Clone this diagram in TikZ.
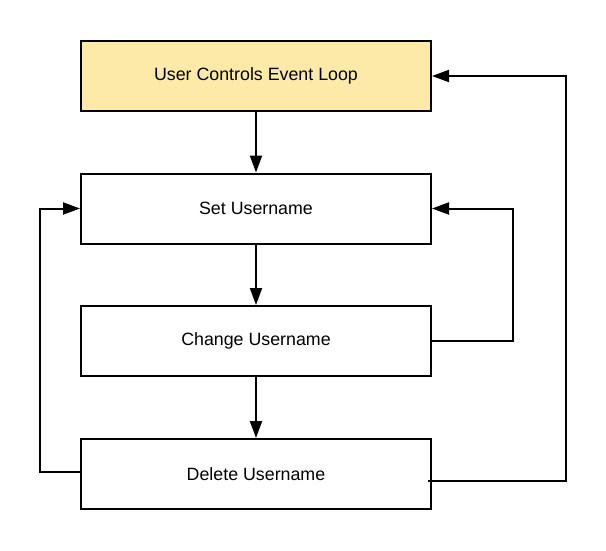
\documentclass[tikz,border=0pt]{standalone}
\usepackage{fontspec}
\setmainfont{Liberation Sans}
\usetikzlibrary{arrows.meta,calc}
\definecolor{loopyellow}{RGB}{253,234,168}
\tikzset{
  stepbox/.style={draw, line width=2pt, minimum width=350pt, minimum height=70pt,
    inner sep=0pt, font=\fontsize{17.8}{20}\selectfont},
  flow/.style={line width=2pt, -{Triangle[length=17pt,width=12pt]}}
}

\begin{document}
\begin{tikzpicture}[x=1pt,y=-1pt]
  \useasboundingbox (0,0) rectangle (606,550);

  \node[stepbox, fill=loopyellow] (loop) at (256,76) {User Controls Event Loop};
  \node[stepbox] (set) at (256,208.5) {Set Username};
  \node[stepbox] (change) at (256,341) {Change Username};
  \node[stepbox] (delete) at (256,474) {Delete Username};

  % Main flow downwards
  \draw[flow] (loop) -- (set);
  \draw[flow] (set) -- (change);
  \draw[flow] (change) -- (delete);

  % Loops back
  \draw[flow] (change.east) -- ++(81,0) |- (set.east);
  \coordinate (dout) at ($(delete.east)+(-4,7)$);
  \draw[flow] (dout) -- ++(138,0) |- (loop.east);
  \coordinate (din) at ($(delete.west)+(0,-2)$);
  \draw[flow] (din) -- ++(-40,0) |- (set.west);
\end{tikzpicture}
\end{document}
